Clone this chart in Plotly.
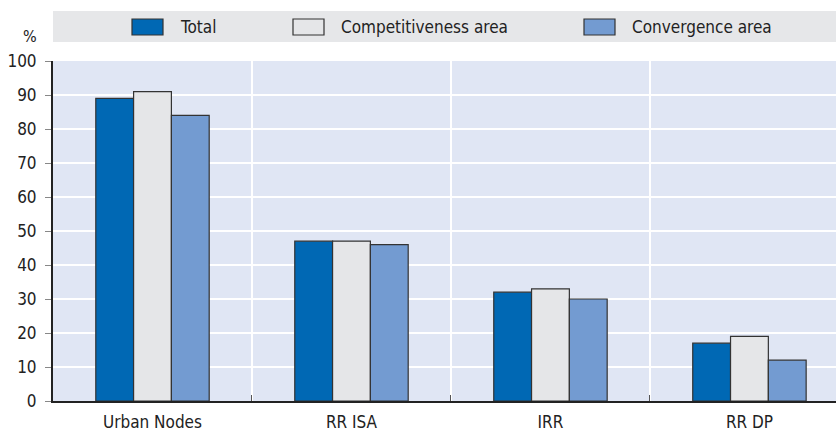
import plotly.graph_objects as go

categories = ["Urban Nodes", "RR ISA", "IRR", "RR DP"]
total = [89, 47, 32, 17]
competitiveness = [91, 47, 33, 19]
convergence = [84, 46, 30, 12]

series_names = ["Total", "Competitiveness area", "Convergence area"]
colors = ["#0068b4", "#e5e6e8", "#739bd1"]

font_family = "DejaVu Sans Condensed"

# plot area in pixels: x 53..836, y 61..401
def px_x(x):
    return (x - 53) / 783

def px_y(y):
    return (401 - y) / 340

fig = go.Figure()
for name, vals, col in zip(series_names, [total, competitiveness, convergence], colors):
    fig.add_trace(go.Bar(x=categories, y=vals, name=name, marker_color=col,
                         marker_line=dict(color="#333333", width=1.2),
                         showlegend=False))

# legend band
fig.add_shape(type="rect", xref="paper", yref="paper", x0=0, x1=1.0,
              y0=px_y(42), y1=px_y(11), fillcolor="#e6e7e9", line_width=0, layer="below")
legend_box = [132, 293, 584]
for name, col, lx in zip(series_names, colors, legend_box):
    fig.add_shape(type="rect", xref="paper", yref="paper", x0=px_x(lx), x1=px_x(lx + 31),
                  y0=px_y(35), y1=px_y(19), fillcolor=col, line=dict(color="#333333", width=1.2))
    fig.add_annotation(xref="paper", yref="paper", x=px_x(lx + 46), y=px_y(27),
                       text=name, showarrow=False, xanchor="left", yanchor="middle",
                       font=dict(size=17, color="#222222", family=font_family))

fig.add_annotation(xref="paper", yref="paper", x=px_x(30), y=px_y(36), text="%",
                   showarrow=False, xanchor="center", yanchor="middle",
                   font=dict(size=16, color="#222222", family=font_family))

fig.update_layout(
    width=836, height=431,
    margin=dict(l=53, r=0, t=61, b=30),
    paper_bgcolor="white",
    plot_bgcolor="#e0e6f4",
    barmode="group",
    bargap=0.43,
    bargroupgap=0,
    font=dict(family=font_family, size=17, color="#222222"),
)
fig.update_xaxes(range=[-0.5, 3.435], tickson="boundaries", showgrid=True,
                 gridcolor="white", gridwidth=1.5, ticks="inside", ticklen=6,
                 tickcolor="#555555", showline=True, linecolor="#222222", linewidth=2,
                 tickfont=dict(size=17), ticklabelstandoff=5, automargin=False)
fig.update_yaxes(range=[0, 100], dtick=10, showgrid=True, gridcolor="white",
                 gridwidth=1.5, ticks="outside", ticklen=6, tickcolor="#888888",
                 showline=True, linecolor="#222222", linewidth=2, zeroline=False,
                 tickfont=dict(size=17), ticklabelstandoff=5, automargin=False)

fig.write_html("out.html", config={"displayModeBar": False},
               post_script="document.body.style.margin='0';")
